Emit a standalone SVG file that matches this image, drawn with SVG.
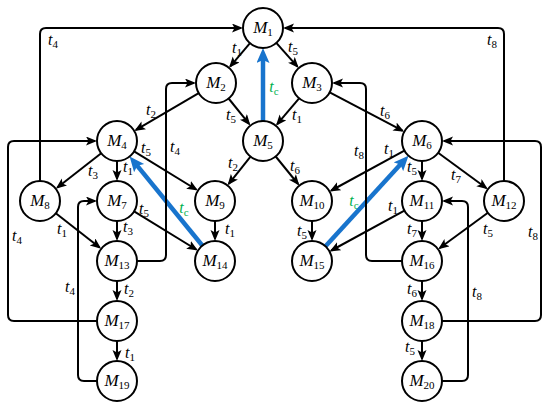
<svg xmlns="http://www.w3.org/2000/svg" width="550" height="409" viewBox="0 0 550 409">
<style>
.n{fill:#fff;stroke:#000;stroke-width:2}
.e{fill:none;stroke:#000;stroke-width:2;marker-end:url(#ah)}
.b{fill:none;stroke:#1874cd;stroke-width:4.5;marker-end:url(#bh)}
.nl{font-size:17px}
.tl{font-size:16px}
.g{fill:#00b050}
.s{font-size:11px;font-style:normal}
</style>
<defs>
<marker id="ah" markerUnits="userSpaceOnUse" markerWidth="12" markerHeight="10" refX="9" refY="4.5" orient="auto">
<path d="M0,0 L11,4.5 L0,9 L2.5,4.5 z" fill="#000"/>
</marker>
<marker id="bh" markerUnits="userSpaceOnUse" markerWidth="16" markerHeight="14" refX="7" refY="6.5" orient="auto">
<path d="M0,0 L15,6.5 L0,13 L3,6.5 z" fill="#1874cd"/>
</marker>
</defs>
<g id="connectors">
<path class="e" d="M250,43.2 L230.3,66.3"/>
<path class="e" d="M276.3,42.9 L297.4,66.6"/>
<path class="e" d="M198.7,93.1 L136,129.9"/>
<path class="e" d="M228.6,98.5 L249.1,123.9"/>
<path class="e" d="M299.1,98.3 L277.2,124.2"/>
<path class="e" d="M329.7,92.3 L402.5,130.7"/>
<path class="b" d="M263,121 L263,56"/>
<path class="e" d="M250.5,156.6 L228.8,183.8"/>
<path class="e" d="M275.7,156.5 L298.1,184"/>
<path class="e" d="M101.2,153.3 L57.4,187.5"/>
<path class="e" d="M117,161 L117,179"/>
<path class="e" d="M134.1,151.4 L196.2,189.5"/>
<path class="e" d="M55.8,213.3 L99.6,247.5"/>
<path class="e" d="M117,221 L117,239"/>
<path class="e" d="M134.1,211.4 L196.2,249.5"/>
<path class="e" d="M215,221 L215,239"/>
<path class="b" d="M202.3,245.5 L134.7,162.7"/>
<path class="e" d="M117,281 L117,299"/>
<path class="e" d="M117,341 L117,359"/>
<path class="e" d="M404.4,150.6 L331.3,190.5"/>
<path class="e" d="M422,161 L422,179"/>
<path class="e" d="M438.1,152.8 L486.2,188"/>
<path class="e" d="M312,221 L312,239"/>
<path class="e" d="M404.4,210.6 L331.3,250.5"/>
<path class="e" d="M422,221 L422,239"/>
<path class="e" d="M487.9,212.8 L439.8,248"/>
<path class="b" d="M325.5,246.3 L403.1,161.6"/>
<path class="e" d="M422,281 L422,299"/>
<path class="e" d="M422,341 L422,359"/>
<path class="e" d="M40,181 V34 Q40,28 46,28 H241"/>
<path class="e" d="M97,321 H14 Q8,321 8,315 V147 Q8,141 14,141 H95"/>
<path class="e" d="M137,261 H160 Q166,261 166,255 V89 Q166,83 172,83 H194"/>
<path class="e" d="M97,381 H84 Q78,381 78,375 V207 Q78,201 84,201 H95"/>
<path class="e" d="M504,181 V34 Q504,28 498,28 H285"/>
<path class="e" d="M402,261 H372 Q366,261 366,255 V89 Q366,83 360,83 H334"/>
<path class="e" d="M442,321 H535 Q541,321 541,315 V147 Q541,141 535,141 H444"/>
<path class="e" d="M442,381 H462 Q468,381 468,375 V207 Q468,201 462,201 H444"/>
</g>
<g font-family="Liberation Serif" font-style="italic" text-anchor="middle" fill="#000">
<g id="edge-labels">
<text class="tl" x="53" y="45">t<tspan class="s" dy="3">4</tspan></text>
<text class="tl" x="237" y="53">t<tspan class="s" dy="3">1</tspan></text>
<text class="tl" x="293" y="52">t<tspan class="s" dy="3">5</tspan></text>
<text class="tl g" x="274" y="92">t<tspan class="s" dy="3">c</tspan></text>
<text class="tl" x="151" y="115">t<tspan class="s" dy="3">2</tspan></text>
<text class="tl" x="231" y="120">t<tspan class="s" dy="3">5</tspan></text>
<text class="tl" x="297" y="120">t<tspan class="s" dy="3">1</tspan></text>
<text class="tl" x="385" y="116">t<tspan class="s" dy="3">6</tspan></text>
<text class="tl" x="492" y="45">t<tspan class="s" dy="3">8</tspan></text>
<text class="tl" x="359" y="156">t<tspan class="s" dy="3">8</tspan></text>
<text class="tl" x="175" y="152">t<tspan class="s" dy="3">4</tspan></text>
<text class="tl" x="146" y="153">t<tspan class="s" dy="3">5</tspan></text>
<text class="tl" x="128" y="172">t<tspan class="s" dy="3">1</tspan></text>
<text class="tl" x="93" y="176">t<tspan class="s" dy="3">3</tspan></text>
<text class="tl" x="233" y="168">t<tspan class="s" dy="3">2</tspan></text>
<text class="tl" x="295" y="171">t<tspan class="s" dy="3">6</tspan></text>
<text class="tl" x="389" y="154">t<tspan class="s" dy="3">1</tspan></text>
<text class="tl" x="412" y="172">t<tspan class="s" dy="3">5</tspan></text>
<text class="tl" x="456" y="180">t<tspan class="s" dy="3">7</tspan></text>
<text class="tl g" x="184" y="213">t<tspan class="s" dy="3">c</tspan></text>
<text class="tl" x="144" y="214">t<tspan class="s" dy="3">5</tspan></text>
<text class="tl g" x="354" y="206">t<tspan class="s" dy="3">c</tspan></text>
<text class="tl" x="393" y="211">t<tspan class="s" dy="3">1</tspan></text>
<text class="tl" x="62" y="234">t<tspan class="s" dy="3">1</tspan></text>
<text class="tl" x="128" y="232">t<tspan class="s" dy="3">3</tspan></text>
<text class="tl" x="230" y="234">t<tspan class="s" dy="3">1</tspan></text>
<text class="tl" x="302" y="236">t<tspan class="s" dy="3">5</tspan></text>
<text class="tl" x="412" y="234">t<tspan class="s" dy="3">7</tspan></text>
<text class="tl" x="488" y="234">t<tspan class="s" dy="3">5</tspan></text>
<text class="tl" x="533" y="237">t<tspan class="s" dy="3">8</tspan></text>
<text class="tl" x="17" y="241">t<tspan class="s" dy="3">4</tspan></text>
<text class="tl" x="70" y="292">t<tspan class="s" dy="3">4</tspan></text>
<text class="tl" x="129" y="294">t<tspan class="s" dy="3">2</tspan></text>
<text class="tl" x="412" y="294">t<tspan class="s" dy="3">6</tspan></text>
<text class="tl" x="477" y="297">t<tspan class="s" dy="3">8</tspan></text>
<text class="tl" x="130" y="358">t<tspan class="s" dy="3">1</tspan></text>
<text class="tl" x="410" y="352">t<tspan class="s" dy="3">5</tspan></text>
</g>
<g id="M1"><circle class="n" cx="263" cy="28" r="20"/><text class="nl" x="263" y="33">M<tspan class="s" dy="3">1</tspan></text></g>
<g id="M2"><circle class="n" cx="216" cy="83" r="20"/><text class="nl" x="216" y="88">M<tspan class="s" dy="3">2</tspan></text></g>
<g id="M3"><circle class="n" cx="312" cy="83" r="20"/><text class="nl" x="312" y="88">M<tspan class="s" dy="3">3</tspan></text></g>
<g id="M4"><circle class="n" cx="117" cy="141" r="20"/><text class="nl" x="117" y="146">M<tspan class="s" dy="3">4</tspan></text></g>
<g id="M5"><circle class="n" cx="263" cy="141" r="20"/><text class="nl" x="263" y="146">M<tspan class="s" dy="3">5</tspan></text></g>
<g id="M6"><circle class="n" cx="422" cy="141" r="20"/><text class="nl" x="422" y="146">M<tspan class="s" dy="3">6</tspan></text></g>
<g id="M7"><circle class="n" cx="117" cy="201" r="20"/><text class="nl" x="117" y="206">M<tspan class="s" dy="3">7</tspan></text></g>
<g id="M8"><circle class="n" cx="40" cy="201" r="20"/><text class="nl" x="40" y="206">M<tspan class="s" dy="3">8</tspan></text></g>
<g id="M9"><circle class="n" cx="215" cy="201" r="20"/><text class="nl" x="215" y="206">M<tspan class="s" dy="3">9</tspan></text></g>
<g id="M10"><circle class="n" cx="312" cy="201" r="20"/><text class="nl" x="312" y="206">M<tspan class="s" dy="3">10</tspan></text></g>
<g id="M11"><circle class="n" cx="422" cy="201" r="20"/><text class="nl" x="422" y="206">M<tspan class="s" dy="3">11</tspan></text></g>
<g id="M12"><circle class="n" cx="504" cy="201" r="20"/><text class="nl" x="504" y="206">M<tspan class="s" dy="3">12</tspan></text></g>
<g id="M13"><circle class="n" cx="117" cy="261" r="20"/><text class="nl" x="117" y="266">M<tspan class="s" dy="3">13</tspan></text></g>
<g id="M14"><circle class="n" cx="215" cy="261" r="20"/><text class="nl" x="215" y="266">M<tspan class="s" dy="3">14</tspan></text></g>
<g id="M15"><circle class="n" cx="312" cy="261" r="20"/><text class="nl" x="312" y="266">M<tspan class="s" dy="3">15</tspan></text></g>
<g id="M16"><circle class="n" cx="422" cy="261" r="20"/><text class="nl" x="422" y="266">M<tspan class="s" dy="3">16</tspan></text></g>
<g id="M17"><circle class="n" cx="117" cy="321" r="20"/><text class="nl" x="117" y="326">M<tspan class="s" dy="3">17</tspan></text></g>
<g id="M18"><circle class="n" cx="422" cy="321" r="20"/><text class="nl" x="422" y="326">M<tspan class="s" dy="3">18</tspan></text></g>
<g id="M19"><circle class="n" cx="117" cy="381" r="20"/><text class="nl" x="117" y="386">M<tspan class="s" dy="3">19</tspan></text></g>
<g id="M20"><circle class="n" cx="422" cy="381" r="20"/><text class="nl" x="422" y="386">M<tspan class="s" dy="3">20</tspan></text></g>
</g>
</svg>
